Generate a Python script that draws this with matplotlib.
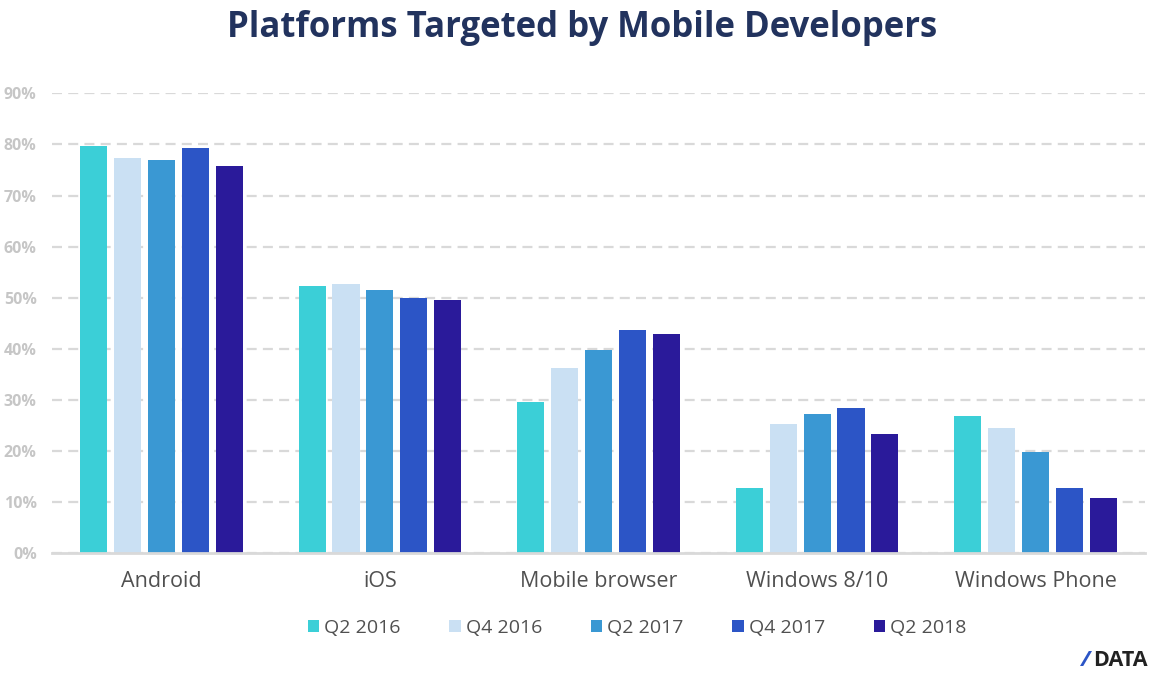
import matplotlib
matplotlib.use("Agg")
import matplotlib.pyplot as plt
from matplotlib.patches import Patch
import numpy as np

# platforms and survey waves
platforms = ["Android", "iOS", "Mobile browser", "Windows 8/10", "Windows Phone"]
waves = ["Q2 2016", "Q4 2016", "Q2 2017", "Q4 2017", "Q2 2018"]

# share of developers targeting each platform (%)
q2_2016 = [79.7, 52.3, 29.6, 12.8, 26.9]
q4_2016 = [77.4, 52.7, 36.3, 25.3, 24.5]
q2_2017 = [77.0, 51.5, 39.8, 27.3, 19.8]
q4_2017 = [79.3, 50.0, 43.7, 28.4, 12.8]
q2_2018 = [75.8, 49.6, 42.9, 23.3, 10.8]

series = [q2_2016, q4_2016, q2_2017, q4_2017, q2_2018]
colors = ["#3bcfd7", "#cae0f3", "#3a98d3", "#2c55c6", "#2a1a9a"]

plt.rcParams['font.family'] = ['Open Sans', 'DejaVu Sans']

fig = plt.figure(figsize=(11.64, 6.86), dpi=100)
ax = fig.add_axes([52/1164, 1 - 553.3/686, (1145 - 52)/1164, (553.3 - 93.3)/686])

x = np.arange(len(platforms))
step = 0.155
width = 0.124
for i, (vals, col) in enumerate(zip(series, colors)):
    ax.bar(x + (i - 2) * step, vals, width, color=col, zorder=3, label=waves[i])

ax.set_xlim(-0.5, len(platforms) - 0.5)
ax.set_ylim(0, 90)
ax.set_yticks(np.arange(0, 91, 10))
ax.set_yticklabels([f"{v}%" for v in range(0, 91, 10)])
ax.set_xticks(x)
ax.set_xticklabels(platforms)

ax.grid(axis='y', color='#d9d9d9', linewidth=1.6, linestyle=(0, (4.5, 2.8)), zorder=0)
for s in ['top', 'right', 'left']:
    ax.spines[s].set_visible(False)
ax.spines['bottom'].set_color('#d9d9d9')
ax.spines['bottom'].set_linewidth(2)
ax.spines['bottom'].set_zorder(4)

ax.tick_params(axis='y', length=0, pad=11, labelsize=11.5, labelcolor='#c6c6c6')
ax.tick_params(axis='x', length=0, pad=13, labelsize=15.5, labelcolor='#505050')
for lab in ax.get_yticklabels():
    lab.set_fontweight('bold')

fig.text(0.5, 1 - 28/686, "Platforms Targeted by Mobile Developers", ha='center', va='center',
         fontsize=25, fontweight='bold', color='#22335e')

handles = [Patch(facecolor=c, edgecolor='none') for c in colors]
leg = fig.legend(handles, waves, loc='center', bbox_to_anchor=(637/1164, 1 - 628/686), ncol=5,
                 frameon=False, fontsize=14, handlelength=0.6, handleheight=0.6,
                 handletextpad=0.25, columnspacing=2.5)
for t in leg.get_texts():
    t.set_color('#505050')

# logo
fig.text(1090/1164, 1 - 661/686, "/", ha='right', va='center', fontsize=16, fontweight='bold',
         color='#2c55c6', style='italic')
fig.text(1093/1164, 1 - 661/686, "DATA", ha='left', va='center', fontsize=15.5, fontweight='bold',
         color='#222222')

fig.savefig("out.png", dpi=100)
